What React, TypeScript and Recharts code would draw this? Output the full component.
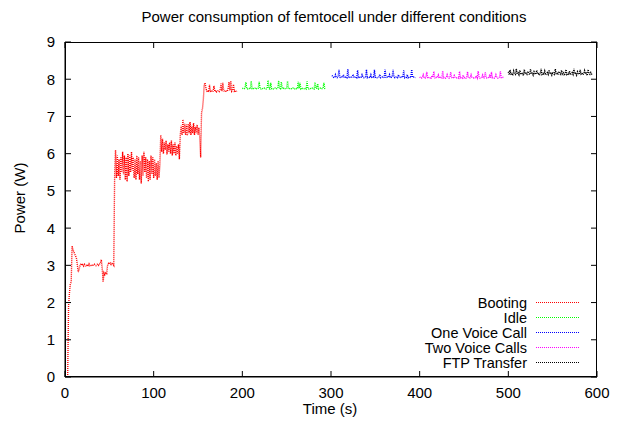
import { LineChart, Line, XAxis, YAxis } from "recharts";

const timeTicks = [0, 100, 200, 300, 400, 500, 600];
const powerTicks = [0, 1, 2, 3, 4, 5, 6, 7, 8, 9];

const seriesNames = ["Booting", "Idle", "One Voice Call", "Two Voice Calls", "FTP Transfer"];
const seriesColors = ["#ff0000", "#00ff00", "#0000ff", "#ff00ff", "#000000"];

// one sample per second, first sample at the given start time
const bootingStart = 3;
const bootingPower = [
  0, 1.9, 2.25, 2.5, 2.55, 3.52, 3.42, 3.36, 3.3, 3.25,
  3.18, 3.0, 2.82, 2.9, 3.0, 3.05, 3.0, 3.02, 2.98, 3.03,
  3.0, 2.97, 3.02, 3.0, 3.04, 2.99, 3.01, 3.0, 2.98, 3.02,
  3.03, 3.0, 2.99, 3.02, 3.04, 3.0, 3.03, 3.08, 3.15, 2.9,
  2.55, 2.8, 2.75, 2.8, 2.78, 3.0, 3.05, 3.03, 3.06, 3.02,
  3.05, 3.04, 3.0, 5.45, 6.1, 5.35, 5.95, 5.4, 5.85, 5.3,
  5.9, 5.5, 6.05, 5.45, 5.95, 5.3, 5.9, 5.25, 6.0, 5.4,
  5.95, 5.5, 6.05, 5.55, 5.9, 5.35, 5.85, 5.3, 5.95, 5.45,
  5.9, 5.3, 5.8, 5.2, 5.95, 5.4, 6.05, 5.5, 5.9, 5.35,
  5.85, 5.25, 5.8, 5.3, 5.95, 5.45, 5.9, 5.35, 5.85, 5.4,
  5.75, 5.3, 5.8, 5.35, 5.7, 6.5, 6.05, 6.4, 6.0, 6.3,
  6.1, 6.35, 5.98, 6.25, 6.05, 6.3, 6.0, 6.35, 5.95, 6.25,
  6.0, 6.3, 5.95, 6.2, 6.0, 6.25, 5.85, 6.5, 6.75, 6.5,
  6.92, 6.55, 6.8, 6.5, 6.78, 6.48, 6.8, 6.55, 6.85, 6.5,
  6.75, 6.55, 6.82, 6.5, 6.72, 6.55, 6.78, 6.5, 6.7, 6.45,
  5.9, 7.1, 7.2, 7.45, 7.85, 7.9, 7.75, 7.68, 7.7, 7.66,
  7.85, 7.68, 7.7, 7.66, 7.68, 7.82, 7.67, 7.7, 7.66, 7.68,
  7.7, 7.67, 7.72, 7.88, 7.68, 7.9, 7.7, 7.66, 7.68, 7.7,
  7.67, 7.75, 7.92, 7.7, 7.95, 7.68, 7.72, 7.86, 7.68, 7.7,
  7.66, 7.68,
];

const idleStart = 200;
const idlePower = [
  7.76, 7.75, 7.74, 7.76, 7.92, 7.75, 7.74, 7.76, 7.75, 7.74,
  7.95, 7.75, 7.76, 7.74, 7.75, 7.77, 7.75, 7.74, 7.76, 7.93,
  7.75, 7.74, 7.76, 7.75, 7.74, 7.76, 7.75, 7.74, 7.76, 7.97,
  7.75, 7.74, 7.9, 7.75, 7.76, 7.74, 7.75, 7.76, 7.74, 7.75,
  7.76, 7.96, 7.75, 7.74, 7.92, 7.75, 7.76, 7.74, 7.75, 7.74,
  7.76, 7.95, 7.75, 7.74, 7.76, 7.75, 7.74, 7.76, 7.75, 7.74,
  7.76, 7.75, 7.74, 7.93, 7.75, 7.9, 7.74, 7.76, 7.75, 7.74,
  7.75, 7.76, 7.74, 7.94, 7.75, 7.74, 7.76, 7.75, 7.74, 7.76,
  7.75, 7.74, 7.92, 7.75, 7.76, 7.88, 7.74, 7.75, 7.76, 7.74,
  7.75, 7.76, 7.9, 7.75, 7.74,
];

const oneCallStart = 301;
const oneCallPower = [
  8.1, 8.08, 8.05, 8.04, 8.12, 8.05, 8.04, 8.06, 8.25, 8.05,
  8.04, 8.06, 8.05, 8.12, 8.04, 8.05, 8.06, 8.04, 8.27, 8.05,
  8.06, 8.04, 8.05, 8.06, 8.13, 8.04, 8.05, 8.06, 8.04, 8.24,
  8.05, 8.06, 8.04, 8.05, 8.12, 8.06, 8.04, 8.05, 8.06, 8.26,
  8.04, 8.05, 8.06, 8.04, 8.12, 8.05, 8.06, 8.04, 8.25, 8.05,
  8.06, 8.04, 8.05, 8.06, 8.13, 8.04, 8.05, 8.06, 8.04, 8.05,
  8.26, 8.05, 8.04, 8.06, 8.05, 8.12, 8.04, 8.05, 8.06, 8.25,
  8.05, 8.04, 8.06, 8.05, 8.04, 8.12, 8.06, 8.05, 8.04, 8.06,
  8.05, 8.24, 8.04, 8.06, 8.05, 8.12, 8.04, 8.06, 8.05, 8.04,
  8.26, 8.05, 8.06, 8.04, 8.05,
];

const twoCallsStart = 400;
const twoCallsPower = [
  8.06, 8.04, 8.03, 8.05, 8.12, 8.04, 8.03, 8.05, 8.2, 8.04,
  8.03, 8.05, 8.04, 8.03, 8.1, 8.05, 8.21, 8.04, 8.03, 8.05,
  8.04, 8.11, 8.03, 8.05, 8.04, 8.03, 8.22, 8.04, 8.05, 8.03,
  8.04, 8.12, 8.05, 8.03, 8.04, 8.19, 8.05, 8.03, 8.04, 8.1,
  8.05, 8.03, 8.04, 8.05, 8.03, 8.21, 8.04, 8.05, 8.03, 8.11,
  8.04, 8.05, 8.03, 8.04, 8.2, 8.05, 8.03, 8.04, 8.12, 8.05,
  8.03, 8.04, 8.05, 8.03, 8.1, 8.04, 8.22, 8.05, 8.03, 8.04,
  8.05, 8.11, 8.03, 8.04, 8.19, 8.05, 8.03, 8.04, 8.05, 8.1,
  8.03, 8.2, 8.04, 8.05, 8.03, 8.04, 8.12, 8.05, 8.03, 8.04,
  8.05, 8.21, 8.04, 8.03, 8.05, 8.04,
];

const ftpStart = 500;
const ftpPower = [
  8.2, 8.12, 8.25, 8.14, 8.16, 8.1, 8.22, 8.15, 8.13, 8.28,
  8.14, 8.17, 8.12, 8.24, 8.15, 8.13, 8.18, 8.1, 8.26, 8.14,
  8.16, 8.13, 8.21, 8.15, 8.12, 8.27, 8.14, 8.16, 8.11, 8.2,
  8.15, 8.13, 8.24, 8.14, 8.17, 8.1, 8.15, 8.28, 8.13, 8.16,
  8.14, 8.22, 8.12, 8.15, 8.18, 8.13, 8.25, 8.14, 8.16, 8.11,
  8.19, 8.15, 8.13, 8.27, 8.14, 8.16, 8.12, 8.21, 8.15, 8.13,
  8.24, 8.14, 8.17, 8.1, 8.15, 8.26, 8.13, 8.16, 8.14, 8.22,
  8.12, 8.15, 8.18, 8.13, 8.28, 8.14, 8.16, 8.11, 8.2, 8.15,
  8.13, 8.25, 8.14, 8.17, 8.12, 8.15, 8.23, 8.14, 8.16, 8.1,
  8.26, 8.15, 8.13, 8.18, 8.14, 8.16,
];

function toPoints(start: number, values: number[]) {
  return values.map((p, i) => ({ t: start + i, p }));
}

const series = [
  toPoints(bootingStart, bootingPower),
  toPoints(idleStart, idlePower),
  toPoints(oneCallStart, oneCallPower),
  toPoints(twoCallsStart, twoCallsPower),
  toPoints(ftpStart, ftpPower),
];

const font = "'Liberation Sans', Arial, Helvetica, sans-serif";
const axisLine = { stroke: "#000", strokeWidth: 1 };
const TICK = 6;

// plot box in page pixels (matches the chart margins + axis sizes below)
const plot = { left: 65, top: 42, right: 597, bottom: 377 };

// gnuplot style: tick marks point into the plot, labels sit outside
function BottomTick(props: any) {
  const { x, y, payload } = props;
  return (
    <g>
      <line x1={x} x2={x} y1={y} y2={y - TICK} stroke="#000" />
      <line x1={x} x2={x} y1={plot.top} y2={plot.top + TICK} stroke="#000" />
      <text x={x} y={y + 10} dy="0.71em" textAnchor="middle" fontSize={15} fontFamily={font} fill="#000">
        {payload.value}
      </text>
    </g>
  );
}

function LeftTick(props: any) {
  const { x, y, payload } = props;
  return (
    <g>
      <line x1={x} x2={x + TICK} y1={y} y2={y} stroke="#000" />
      <line x1={plot.right} x2={plot.right - TICK} y1={y} y2={y} stroke="#000" />
      <text x={x - 10} y={y} dy="0.36em" textAnchor="end" fontSize={15} fontFamily={font} fill="#000">
        {payload.value}
      </text>
    </g>
  );
}

export default function App() {
  return (
    <div style={{ position: "absolute", left: 0, top: 0, width: 621, height: 423, background: "#fff", fontFamily: font, color: "#000" }}>
      <LineChart
        width={621}
        height={423}
        margin={{ top: plot.top, right: 621 - plot.right, bottom: 16, left: 15 }}
      >
        <XAxis
          dataKey="t"
          type="number"
          domain={[0, 600]}
          ticks={timeTicks}
          allowDataOverflow
          height={30}
          tickSize={0}
          tickMargin={0}
          tickLine={false}
          axisLine={axisLine}
          tick={<BottomTick />}
        />
        <YAxis
          type="number"
          domain={[0, 9]}
          ticks={powerTicks}
          allowDataOverflow
          width={50}
          tickSize={0}
          tickMargin={0}
          tickLine={false}
          axisLine={axisLine}
          tick={<LeftTick />}
        />
        {series.map((data, i) => (
          <Line
            key={seriesNames[i]}
            data={data}
            dataKey="p"
            name={seriesNames[i]}
            type="linear"
            stroke={seriesColors[i]}
            strokeWidth={1.4}
            strokeDasharray="1 1"
            dot={false}
            activeDot={false}
            isAnimationActive={false}
          />
        ))}
      </LineChart>

      {/* full plot frame drawn over the chart, snapped to whole pixels */}
      <svg
        width={621}
        height={423}
        style={{ position: "absolute", left: 0, top: 0, pointerEvents: "none" }}
      >
        <rect
          x={plot.left + 0.5}
          y={plot.top + 0.5}
          width={plot.right - plot.left - 1}
          height={plot.bottom - plot.top - 1}
          fill="none"
          stroke="#000"
          strokeWidth={1}
          shapeRendering="crispEdges"
        />
      </svg>

      <div style={{ position: "absolute", left: 134, top: 8, width: 400, textAlign: "center", fontSize: 15, lineHeight: "18px" }}>
        Power consumption of femtocell under different conditions
      </div>
      <div style={{ position: "absolute", left: 230, top: 400, width: 200, textAlign: "center", fontSize: 15, lineHeight: "18px" }}>
        Time (s)
      </div>
      <div
        style={{
          position: "absolute",
          left: 20 - 60,
          top: 198 - 9,
          width: 120,
          textAlign: "center",
          fontSize: 15,
          lineHeight: "18px",
          transform: "rotate(-90deg)",
        }}
      >
        Power (W)
      </div>

      <div style={{ position: "absolute", left: 380, top: 295, width: 200 }}>
        {seriesNames.map((name, i) => (
          <div key={name} style={{ display: "flex", alignItems: "center", height: 15.1, fontSize: 14.5, lineHeight: "14px" }}>
            <span style={{ width: 147, textAlign: "right", whiteSpace: "nowrap" }}>{name}</span>
            <span style={{ marginLeft: 9, width: 43, borderTop: `1px dotted ${seriesColors[i]}` }} />
          </div>
        ))}
      </div>
    </div>
  );
}
